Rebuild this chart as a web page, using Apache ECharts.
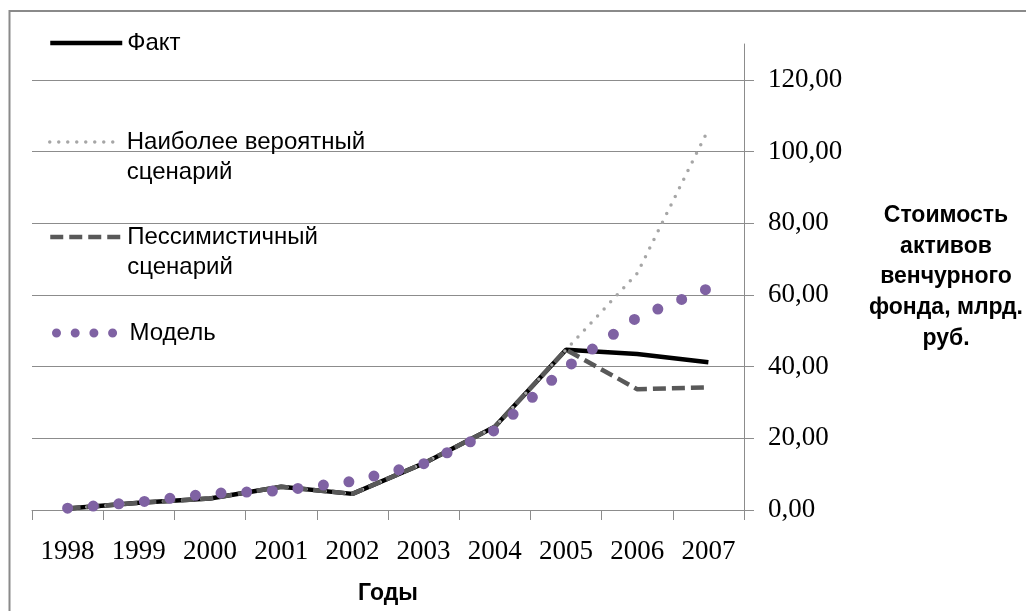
<!DOCTYPE html>
<html>
<head>
<meta charset="utf-8">
<script src="https://cdn.jsdelivr.net/npm/echarts@6/dist/echarts.min.js"></script>
<style>
html,body{margin:0;padding:0;background:#ffffff;}
#c{width:1026px;height:611px;}
</style>
</head>
<body>
<div id="c"></div>
<script>
// ---- data ----
const years = ['1998','1999','2000','2001','2002','2003','2004','2005','2006','2007'];
const fact        = [0.4, 2.0, 3.2, 6.5, 4.5, 13.0, 23.2, 44.7, 43.5, 41.2];
const probable    = [0.4, 2.0, 3.2, 6.5, 4.5, 13.0, 23.2, 44.7, 66.0, 106.2];
const pessimistic = [0.4, 2.0, 3.2, 6.5, 4.5, 13.0, 23.2, 44.7, 33.7, 34.2];
const model       = [0.5, 2.2, 4.6, 5.4, 8.0, 12.9, 22.2, 39.7, 53.7, 61.8];
const yTicks = [0, 20, 40, 60, 80, 100, 120];
const seriesNames = ['Факт', 'Наиболее вероятный сценарий', 'Пессимистичный сценарий', 'Модель'];
const xTitle = 'Годы';
const yTitle = 'Стоимость\nактивов\nвенчурного\nфонда, млрд.\nруб.';

// ---- styles ----
const GRAY = '#8c8c8c';
const SANS = '"Liberation Sans", Arial, sans-serif';
const SERIF = '"Liberation Serif", "Times New Roman", serif';

const styles = [
  {color:'#000000', width:4.5, type:'solid', cap:'butt', lw:4.5, ltype:'solid', lcap:'butt', top:28},
  {color:'#a6a6a6', width:3.5, type:[0, 9.6], cap:'round', lw:3.5, ltype:[0, 9], lcap:'round', top:97},
  {color:'#595959', width:4.5, type:[13, 6], cap:'butt', lw:4.5, ltype:[13, 6], lcap:'butt', top:192},
  {color:'#7f62a3', width:11, type:[0, 25.7], cap:'round', lw:9, ltype:[0, 18.7], lcap:'round', top:318, off:-4}
];
const dataSets = [fact, probable, pessimistic, model];

const series = seriesNames.map((n, i) => ({
  type: 'line',
  name: n,
  data: dataSets[i],
  symbol: 'none',
  silent: true,
  animation: false,
  emphasis: {disabled: true},
  itemStyle: {color: styles[i].color},
  lineStyle: {color: styles[i].color, width: styles[i].width, type: styles[i].type, cap: styles[i].cap}
}));

const legends = seriesNames.map((n, i) => ({
  data: [n],
  left: 48,
  top: styles[i].top,
  padding: 0,
  itemWidth: 72,
  itemHeight: 14,
  itemGap: 0,
  selectedMode: false,
  // two-line names: an empty leading line keeps the first text line level with the icon
  formatter: (name) => name.indexOf(' сценарий') > 0 ? '\n' + name.replace(' сценарий', '\nсценарий') : name,
  itemStyle: {opacity: 0},
  lineStyle: {color: styles[i].color, width: styles[i].lw, type: styles[i].ltype, cap: styles[i].lcap, dashOffset: styles[i].off || 0},
  textStyle: {fontFamily: SANS, fontSize: 24, color: '#000', lineHeight: 30}
}));

const chart = echarts.init(document.getElementById('c'), null, {renderer: 'canvas'});
chart.setOption({
  backgroundColor: '#ffffff',
  animation: false,
  graphic: [{
    type: 'rect', silent: true, z: -1,
    shape: {x: 9.5, y: 11, width: 1100, height: 700},
    style: {fill: 'none', stroke: '#8a8a8a', lineWidth: 2}
  }],
  legend: legends,
  grid: {left: 32, right: 278, top: 44, bottom: 101, containLabel: false},
  xAxis: {
    type: 'category',
    data: years,
    boundaryGap: true,
    axisLine: {show: true, lineStyle: {color: GRAY, width: 1}},
    axisTick: {show: true, length: 10, interval: 0, lineStyle: {color: GRAY, width: 1}},
    axisLabel: {interval: 0, margin: 28, fontFamily: SERIF, fontSize: 27, color: '#000'},
    splitLine: {show: false},
    name: xTitle,
    nameLocation: 'middle',
    nameGap: 84,
    nameTextStyle: {fontFamily: SANS, fontWeight: 'bold', fontSize: 23, color: '#000', verticalAlign: 'middle'}
  },
  yAxis: {
    type: 'value',
    position: 'right',
    min: 0, max: 130, interval: 20,
    axisLine: {show: true, lineStyle: {color: GRAY, width: 1}},
    axisTick: {show: true, length: 10, customValues: yTicks, lineStyle: {color: GRAY, width: 1}},
    axisLabel: {
      customValues: yTicks,
      margin: 24, fontFamily: SERIF, fontSize: 27, color: '#000',
      formatter: (v) => Number(v).toFixed(2).replace('.', ',')
    },
    splitLine: {show: true, lineStyle: {color: GRAY, width: 1}},
    name: yTitle,
    nameLocation: 'middle',
    nameRotate: 0,
    nameGap: 202,
    nameTextStyle: {align: 'center', verticalAlign: 'middle', fontFamily: SANS, fontWeight: 'bold', fontSize: 23, lineHeight: 30.7, color: '#000'}
  },
  series: series
});
</script>
</body>
</html>
